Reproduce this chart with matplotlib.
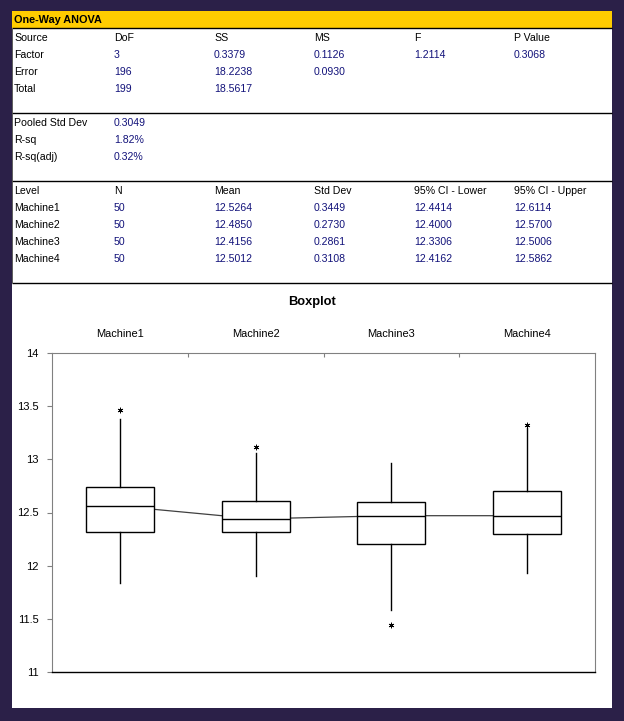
import matplotlib
matplotlib.use("Agg")
import matplotlib.pyplot as plt
from matplotlib.patches import Rectangle

plt.rcParams["font.family"] = ["Liberation Sans", "DejaVu Sans"]

# ---- table data ----
anova_header = ["Source", "DoF", "SS", "MS", "F", "P Value"]
anova_rows = [
    ["Factor", "3", "0.3379", "0.1126", "1.2114", "0.3068"],
    ["Error", "196", "18.2238", "0.0930", "", ""],
    ["Total", "199", "18.5617", "", "", ""],
]
fit_names = ["Pooled Std Dev", "R-sq", "R-sq(adj)"]
fit_values = ["0.3049", "1.82%", "0.32%"]
level_header = ["Level", "N", "Mean", "Std Dev", "95% CI - Lower", "95% CI - Upper"]
level_rows = [
    ["Machine1", "50", "12.5264", "0.3449", "12.4414", "12.6114"],
    ["Machine2", "50", "12.4850", "0.2730", "12.4000", "12.5700"],
    ["Machine3", "50", "12.4156", "0.2861", "12.3306", "12.5006"],
    ["Machine4", "50", "12.5012", "0.3108", "12.4162", "12.5862"],
]

# ---- boxplot data ----
machines = ["Machine1", "Machine2", "Machine3", "Machine4"]
q1 = [12.32, 12.32, 12.20, 12.30]
med = [12.56, 12.44, 12.47, 12.47]
q3 = [12.74, 12.61, 12.60, 12.70]
whislo = [11.84, 11.90, 11.58, 11.93]
whishi = [13.38, 13.06, 12.97, 13.29]
fliers = [[13.46], [13.12], [11.44], [13.32]]
y_ticks = [11, 11.5, 12, 12.5, 13, 13.5, 14]

W, H = 624, 721
fig = plt.figure(figsize=(W / 100, H / 100), dpi=100, facecolor="#2b2048")

# overlay in pixel coordinates for the report page
bg = fig.add_axes([0, 0, 1, 1])
bg.set_xlim(0, W)
bg.set_ylim(H, 0)
bg.axis("off")
bg.add_patch(Rectangle((12, 11), 600, 697, facecolor="white", edgecolor="none"))
bg.add_patch(Rectangle((12, 11), 600, 17, facecolor="#ffcc00", edgecolor="none"))
bg.hlines([28, 113, 181, 283], 12, 612, color="black", lw=1.0)
bg.vlines([12], 28, 283, color="#404040", lw=0.6)

label_col = "black"
value_col = "#12127a"
fs = 7.6
cols_x = [14, 114, 214, 314, 414, 514]

bg.text(14, 20, "One-Way ANOVA", fontsize=7.8, fontweight="bold", va="center")

for x, s in zip(cols_x, anova_header):
    bg.text(x, 38, s, fontsize=fs, color=label_col, va="center")
for i, row in enumerate(anova_rows):
    y = 55 + 17 * i
    for j, (x, s) in enumerate(zip(cols_x, row)):
        bg.text(x, y, s, fontsize=fs, color=label_col if j == 0 else value_col, va="center")

for i, (n, v) in enumerate(zip(fit_names, fit_values)):
    y = 123 + 17 * i
    bg.text(cols_x[0], y, n, fontsize=fs, color=label_col, va="center")
    bg.text(cols_x[1], y, v, fontsize=fs, color=value_col, va="center")

for x, s in zip(cols_x, level_header):
    bg.text(x, 191, s, fontsize=fs, color=label_col, va="center")
for i, row in enumerate(level_rows):
    y = 208 + 17 * i
    for j, (x, s) in enumerate(zip(cols_x, row)):
        bg.text(x, y, s, fontsize=fs, color=label_col if j == 0 else value_col, va="center")

bg.text(312, 302, "Boxplot", fontsize=9.3, fontweight="bold", ha="center", va="center")

# ---- boxplot ----
ax = fig.add_axes([52 / W, (H - 672) / H, 543 / W, 319 / H])
ax.set_facecolor("white")
pos = list(range(1, len(machines) + 1))
stats = []
for i, m in enumerate(machines):
    stats.append({"label": m, "q1": q1[i], "med": med[i], "q3": q3[i],
                  "whislo": whislo[i], "whishi": whishi[i], "fliers": fliers[i]})

# median connecting line sits under the white boxes
ax.plot(pos, med, color="#404040", lw=0.9, zorder=1)
ax.bxp(stats, positions=pos, widths=0.5, showcaps=False, patch_artist=True,
       boxprops=dict(facecolor="white", edgecolor="black", lw=1.0),
       whiskerprops=dict(color="black", lw=1.0),
       medianprops=dict(color="black", lw=1.0),
       flierprops=dict(marker=(6, 2, 0), markersize=4, markeredgecolor="black",
                       markeredgewidth=0.6, linestyle="none"),
       zorder=2)

ax.set_xlim(0.5, len(machines) + 0.5)
ax.set_ylim(11, 14)
ax.set_yticks(y_ticks)
ax.set_yticklabels(["11", "11.5", "12", "12.5", "13", "13.5", "14"])
ax.tick_params(axis="y", direction="out", length=3.5, width=0.8, color="#808080",
               labelsize=8, pad=6)

ax.xaxis.set_ticks_position("top")
ax.set_xticks(pos)
ax.set_xticklabels(machines)
ax.set_xticks([p + 0.5 for p in pos[:-1]], minor=True)
ax.tick_params(axis="x", which="major", length=0, labelsize=7.9, pad=10)
ax.tick_params(axis="x", which="minor", direction="in", length=3, width=0.8, color="#808080")

for side in ["top", "left", "right"]:
    ax.spines[side].set_color("#808080")
    ax.spines[side].set_linewidth(0.8)
ax.spines["bottom"].set_color("black")
ax.spines["bottom"].set_linewidth(1.0)

plt.savefig("out.png", dpi=100, facecolor=fig.get_facecolor())
